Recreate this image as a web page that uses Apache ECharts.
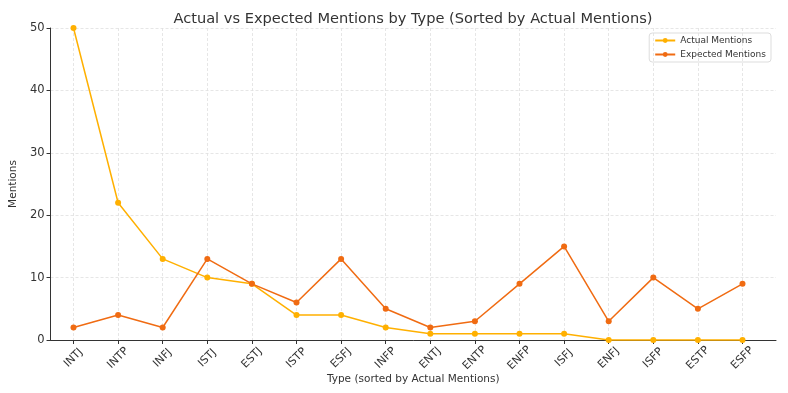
<!DOCTYPE html>
<html><head><meta charset="utf-8">
<script src="https://cdn.jsdelivr.net/npm/echarts@6/dist/echarts.min.js"></script>
<style>html,body{margin:0;padding:0;background:#fff}#c{width:788px;height:393px}</style>
</head><body><div id="c"></div>
<script>
const categories = ['INTJ','INTP','INFJ','ISTJ','ESTJ','ISTP','ESFJ','INFP','ENTJ','ENTP','ENFP','ISFJ','ENFJ','ISFP','ESTP','ESFP'];
const actualMentions = [50,22,13,10,9,4,4,2,1,1,1,1,0,0,0,0];
const expectedMentions = [2,4,2,13,9,6,13,5,2,3,9,15,3,10,5,9];
const yTicks = [0,10,20,30,40,50];

const F = 'DejaVu Sans';
const chart = echarts.init(document.getElementById('c'));
chart.setOption({
  animation:false,
  backgroundColor:'#fff',
  title:{text:'Actual vs Expected Mentions by Type (Sorted by Actual Mentions)',left:408,top:7,textAlign:'center',
    textStyle:{fontFamily:F,fontSize:14.6,fontWeight:'normal',color:'#333'}},
  legend:{right:17,top:33,orient:'vertical',itemWidth:20,itemHeight:6,itemGap:5,
    padding:[3,5,3,5],borderColor:'#ddd',borderWidth:1,borderRadius:3,
    textStyle:{fontFamily:F,fontSize:9,color:'#333'},
    data:['Actual Mentions','Expected Mentions']},
  grid:[
    {left:40,right:12,top:28,bottom:53},
    {left:73.5,right:45.5,top:28,bottom:53}
  ],
  xAxis:[
    {gridIndex:0,type:'value',min:0,max:1,axisLine:{show:true,lineStyle:{color:'#333',width:1}},
      axisTick:{show:false},axisLabel:{show:false},splitLine:{show:false},
      name:'Type (sorted by Actual Mentions)',nameLocation:'middle',nameGap:34,
      nameTextStyle:{fontFamily:F,fontSize:10.5,color:'#333'}},
    {gridIndex:1,type:'category',data:categories,boundaryGap:false,
      axisLine:{show:false},axisTick:{show:true,alignWithLabel:true,length:4,lineStyle:{color:'#333'}},
      axisLabel:{rotate:45,fontFamily:F,fontSize:11,color:'#333',margin:18,interval:0,align:'center',verticalAlign:'middle'},
      splitLine:{show:true,lineStyle:{color:'#e0e0e0',type:[3,2],width:0.8}}}
  ],
  yAxis:[
    {gridIndex:0,type:'value',min:0,max:50,interval:10,
      axisLine:{show:true,lineStyle:{color:'#333',width:1}},
      axisTick:{show:true,length:4,lineStyle:{color:'#333'}},
      axisLabel:{fontFamily:F,fontSize:11.5,color:'#333',margin:6},
      splitLine:{show:true,lineStyle:{color:'#e0e0e0',type:[3,2],width:0.8}},
      name:'Mentions',nameLocation:'middle',nameGap:25,nameRotate:90,
      nameTextStyle:{fontFamily:F,fontSize:10.5,color:'#333'}},
    {gridIndex:1,type:'value',min:0,max:50,interval:10,show:false}
  ],
  series:[
    {name:'Actual Mentions',type:'line',xAxisIndex:1,yAxisIndex:1,data:actualMentions,
      color:'#ffb000',symbol:'circle',symbolSize:6,lineStyle:{width:1.5},clip:false},
    {name:'Expected Mentions',type:'line',xAxisIndex:1,yAxisIndex:1,data:expectedMentions,
      color:'#f06b12',symbol:'circle',symbolSize:6,lineStyle:{width:1.5},clip:false}
  ]
});
</script></body></html>
